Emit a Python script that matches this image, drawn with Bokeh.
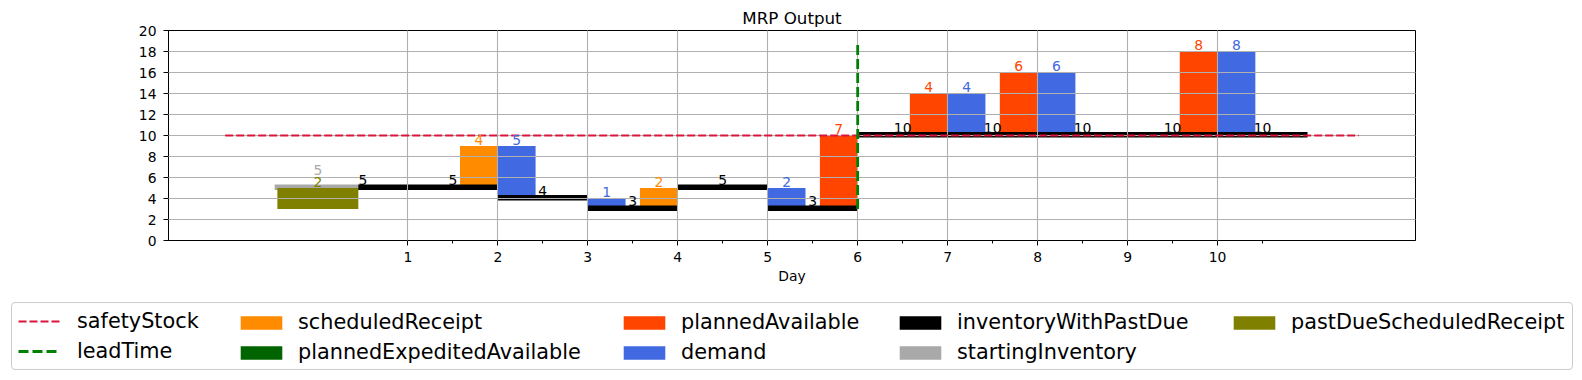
from bokeh.plotting import figure
from bokeh.layouts import column
from bokeh.models import Range1d, FixedTicker, Legend, LegendItem, ColumnDataSource
from bokeh.core.properties import value
from bokeh.embed import file_html
from bokeh.resources import INLINE

# ---------------- data ----------------
days = [0, 1, 2, 3, 4, 5, 6, 7, 8, 9, 10]
inventory_with_past_due = [5, 5, 4, 3, 5, 3, 10, 10, 10, 10, 10]
scheduled_receipt = [0, 0, 4, 0, 2, 0, 0, 0, 0, 0, 0]
planned_available = [0, 0, 0, 0, 0, 0, 7, 4, 6, 0, 8]
planned_expedited_available = [0, 0, 0, 0, 0, 0, 0, 0, 0, 0, 0]
demand = [0, 0, 5, 1, 0, 2, 0, 4, 6, 0, 8]
starting_inventory = 5
past_due_scheduled_receipt = 2
safety_stock = 10
safety_x = [-1.03, 11.57]
lead_time_day = 6
lead_time_y = [3, 18.8]
x_ticks = [1, 2, 3, 4, 5, 6, 7, 8, 9, 10]
y_ticks = [0, 2, 4, 6, 8, 10, 12, 14, 16, 18, 20]

# ---------------- styling constants ----------------
FONT = "DejaVu Sans"
W = 1582
BAR_W = 0.42
INV_LO, INV_HI = 0.2, 0.33
LBL_OFF = 0.6
INV_LBL_OFF = 0.73
NAN = float("nan")
C_SCHED = "#FF8C00"
C_PLAN = "#FF4500"
C_EXP = "#006400"
C_DEM = "#4169E1"
C_INV = "#000000"
C_START = "#A9A9A9"
C_PAST = "#808000"
C_SAFE = "#DC143C"
C_LEAD = "#008000"
SAFE_DASH = "8 3"
LEAD_DASH = "10 4"

p = figure(width=W, height=298, output_backend="svg", toolbar_location=None,
           x_range=Range1d(-1.66, 12.2), y_range=Range1d(0, 20),
           min_border_left=168, min_border_right=167, min_border_top=30,
           min_border_bottom=58, title="MRP Output")
p.frame_align = False
p.title.text_font = FONT
p.title.text_font_size = "16.7px"
p.title.text_font_style = "normal"
p.title.text_color = "black"
p.title.align = "center"
p.title.standoff = 5
p.outline_line_color = "black"
p.outline_line_alpha = 1
p.outline_line_width = 1

p.xaxis.ticker = FixedTicker(ticks=x_ticks, minor_ticks=[t + 0.5 for t in x_ticks])
p.yaxis.ticker = FixedTicker(ticks=y_ticks)
p.xgrid.ticker = FixedTicker(ticks=x_ticks)
p.ygrid.ticker = FixedTicker(ticks=y_ticks)
p.grid.grid_line_color = "#b0b0b0"
p.grid.grid_line_width = 1.1
p.grid.level = "guide"
p.xaxis.axis_label = "Day"
for ax in (p.xaxis, p.yaxis):
    ax.axis_line_color = "black"
    ax.major_tick_line_color = "black"
    ax.minor_tick_line_color = "black"
    ax.major_tick_out = 5
    ax.major_tick_in = 0
    ax.minor_tick_out = 3
    ax.minor_tick_in = 0
    ax.major_label_text_font = FONT
    ax.major_label_text_font_size = "13.9px"
    ax.major_label_text_color = "black"
    ax.axis_label_text_font = FONT
    ax.axis_label_text_font_size = "13.9px"
    ax.axis_label_text_font_style = "normal"
    ax.axis_label_text_color = "black"
    ax.axis_label_standoff = 3
p.yaxis.minor_tick_line_color = None
p.xaxis.major_label_standoff = 6
p.yaxis.major_label_standoff = 7

# ---------------- bars ----------------
def receipt_src(vals):
    ds = [d for d in days if d > 0 and vals[d] > 0]
    return dict(left=[d - BAR_W for d in ds], right=ds,
                bottom=[inventory_with_past_due[d - 1] for d in ds],
                top=[inventory_with_past_due[d - 1] + vals[d] for d in ds],
                xc=[d - BAR_W / 2 for d in ds], txt=[str(vals[d]) for d in ds])

sched = receipt_src(scheduled_receipt)
plan = receipt_src(planned_available)
expd = receipt_src(planned_expedited_available)
dds = [d for d in days if demand[d] > 0]
dem = dict(left=dds, right=[d + BAR_W for d in dds],
           bottom=[inventory_with_past_due[d] for d in dds],
           top=[inventory_with_past_due[d] + demand[d] for d in dds],
           xc=[d + BAR_W / 2 for d in dds], txt=[str(demand[d]) for d in dds])

for src, col in ((sched, C_SCHED), (expd, C_EXP), (plan, C_PLAN), (dem, C_DEM)):
    p.quad(left="left", right="right", bottom="bottom", top="top",
           source=ColumnDataSource(src), fill_color=col, line_color=None)

p.quad(left=[-0.48], right=[0.47], bottom=[starting_inventory - INV_LO],
       top=[starting_inventory + INV_HI], fill_color=C_START, line_color=None)
p.quad(left=[-0.45], right=[0.45],
       bottom=[inventory_with_past_due[0] - past_due_scheduled_receipt],
       top=[inventory_with_past_due[0]], fill_color=C_PAST, line_color=None)
inv_left = [d if d > 0 else 0.45 for d in days]
p.quad(left=inv_left, right=[d + 1 for d in days],
       bottom=[v - INV_LO for v in inventory_with_past_due],
       top=[v + INV_HI for v in inventory_with_past_due],
       fill_color=C_INV, line_color=None)

# ---------------- lines ----------------
p.line(safety_x, [safety_stock, safety_stock], line_color=C_SAFE,
       line_width=2, line_dash=SAFE_DASH, level="overlay")
p.line([lead_time_day, lead_time_day], lead_time_y, line_color=C_LEAD,
       line_width=2.8, line_dash=LEAD_DASH, level="overlay")

# ---------------- labels ----------------
def labels(xs, ys, txts, color):
    p.text(x=xs, y=ys, text=txts, text_color=color, text_font=value(FONT),
           text_font_size="13.9px", text_align="center", text_baseline="alphabetic",
           level="overlay")

for src, col in ((sched, C_SCHED), (plan, C_PLAN), (expd, C_EXP), (dem, C_DEM)):
    labels(src["xc"], [t + LBL_OFF for t in src["top"]], src["txt"], col)
labels([0], [inventory_with_past_due[0] + LBL_OFF], [str(past_due_scheduled_receipt)], C_PAST)
labels([0], [starting_inventory + LBL_OFF + 1.1], [str(starting_inventory)], C_START)
labels([d + 0.5 for d in days], [v + INV_LBL_OFF for v in inventory_with_past_due],
       [str(v) for v in inventory_with_past_due], C_INV)

# ---------------- legend (separate strip below) ----------------
LH = 82
q = figure(width=W, height=LH, output_backend="svg", toolbar_location=None,
           x_axis_type=None, y_axis_type=None, x_range=Range1d(0, 1), y_range=Range1d(0, 1),
           min_border_left=0, min_border_right=0, min_border_top=0, min_border_bottom=0)
q.frame_align = False
q.outline_line_color = None
q.grid.visible = False

def proxy_bar(color):
    return q.quad(left=[NAN], right=[NAN], bottom=[NAN], top=[NAN],
                  fill_color=color, line_color=None)

def proxy_line(color, dash, width):
    return q.line(x=[NAN, NAN], y=[NAN, NAN], line_color=color, line_dash=dash,
                  line_width=width)

def mk_legend(items, loc, gw, gh, standoff, border=False, label_width=20):
    lg = Legend(items=items, location=loc, orientation="vertical",
                label_text_font=FONT, label_text_font_size="20.8px",
                label_text_color="black",
                glyph_width=gw, glyph_height=gh, label_standoff=standoff,
                label_height=24, label_width=label_width, spacing=6, padding=6, margin=0)
    if border:
        lg.border_line_color = "#cccccc"
        lg.border_line_width = 1
        lg.border_line_alpha = 1
        lg.background_fill_color = "white"
        lg.background_fill_alpha = 1
        lg.border_radius = 4
    else:
        lg.border_line_alpha = 0
        lg.background_fill_alpha = 0
    q.add_layout(lg, "center")

mk_legend([LegendItem(label="safetyStock", renderers=[proxy_line(C_SAFE, SAFE_DASH, 2)]),
           LegendItem(label="leadTime", renderers=[proxy_line(C_LEAD, LEAD_DASH, 2.8)])],
          (11, 10), 42, 14, 17, border=True, label_width=1489)
mk_legend([LegendItem(label="scheduledReceipt", renderers=[proxy_bar(C_SCHED)]),
           LegendItem(label="plannedExpeditedAvailable", renderers=[proxy_bar(C_EXP)])],
          (229, 10), 52, 17, 11)
mk_legend([LegendItem(label="plannedAvailable", renderers=[proxy_bar(C_PLAN)]),
           LegendItem(label="demand", renderers=[proxy_bar(C_DEM)])],
          (612, 10), 52, 17, 11)
mk_legend([LegendItem(label="inventoryWithPastDue", renderers=[proxy_bar(C_INV)]),
           LegendItem(label="startingInventory", renderers=[proxy_bar(C_START)])],
          (888, 10), 52, 17, 11)
mk_legend([LegendItem(label="pastDueScheduledReceipt", renderers=[proxy_bar(C_PAST)])],
          (1222, 40), 52, 17, 11)

layout = column(p, q, spacing=0)
open("out.html", "w").write(file_html(layout, INLINE))
